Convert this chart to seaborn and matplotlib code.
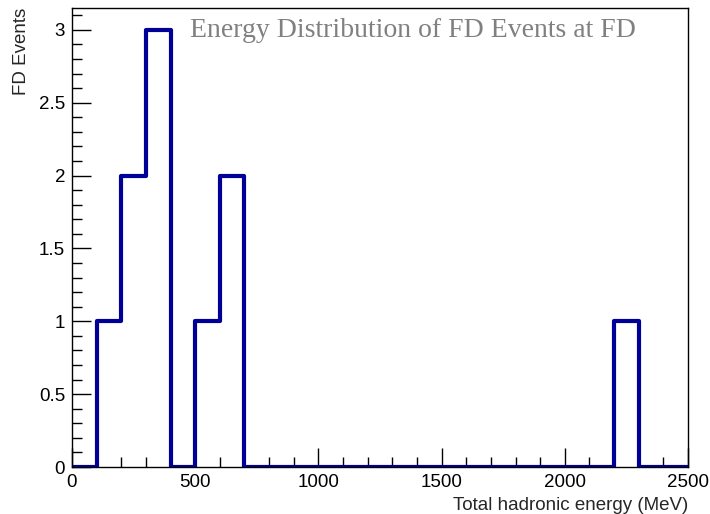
import numpy as np
import matplotlib
matplotlib.use("Agg")
import matplotlib.pyplot as plt
import seaborn as sns
from matplotlib.ticker import MultipleLocator, FormatStrFormatter

# bin edges (MeV) and counts
bin_edges = list(range(0, 2600, 100))
counts = [0, 1, 2, 3, 0, 1, 2, 0, 0, 0, 0, 0, 0, 0, 0, 0, 0, 0, 0, 0, 0, 0, 1, 0, 0]
bin_centers = [e + 50 for e in bin_edges[:-1]]

sns.set_style("ticks")
plt.rcParams["font.family"] = ["Liberation Sans", "DejaVu Sans"]

fig = plt.figure(figsize=(7.1, 5.14), dpi=100)
ax = fig.add_axes([0.1014, 0.0914, 0.8676, 0.893])

sns.histplot(x=bin_centers, weights=counts, bins=bin_edges, element="step",
             fill=False, color="#000099", linewidth=3, ax=ax)

ax.set_xlim(0, 2500)
ax.set_ylim(0, 3.15)
ax.xaxis.set_major_locator(MultipleLocator(500))
ax.xaxis.set_minor_locator(MultipleLocator(100))
ax.yaxis.set_major_locator(MultipleLocator(0.5))
ax.yaxis.set_minor_locator(MultipleLocator(0.1))
ax.yaxis.set_major_formatter(FormatStrFormatter("%g"))

ax.tick_params(which="both", direction="in", top=False, right=False, labelsize=13.5, colors="black")
ax.tick_params(which="major", length=14, width=1, pad=5)
ax.tick_params(which="minor", length=7, width=1)
for s in ax.spines.values():
    s.set_linewidth(1)
    s.set_color("black")

ax.set_xlabel("Total hadronic energy (MeV)", fontsize=13.5, loc="right")
ax.xaxis.set_label_coords(1.0, -0.065)
ax.set_ylabel("FD Events", fontsize=13.5, loc="top", labelpad=6)

ax.text(0.553, 0.95, "Energy Distribution of FD Events at FD", transform=ax.transAxes,
        ha="center", va="center", fontsize=20, color="#808080", family="Liberation Serif")

fig.savefig("out.png", dpi=100)
